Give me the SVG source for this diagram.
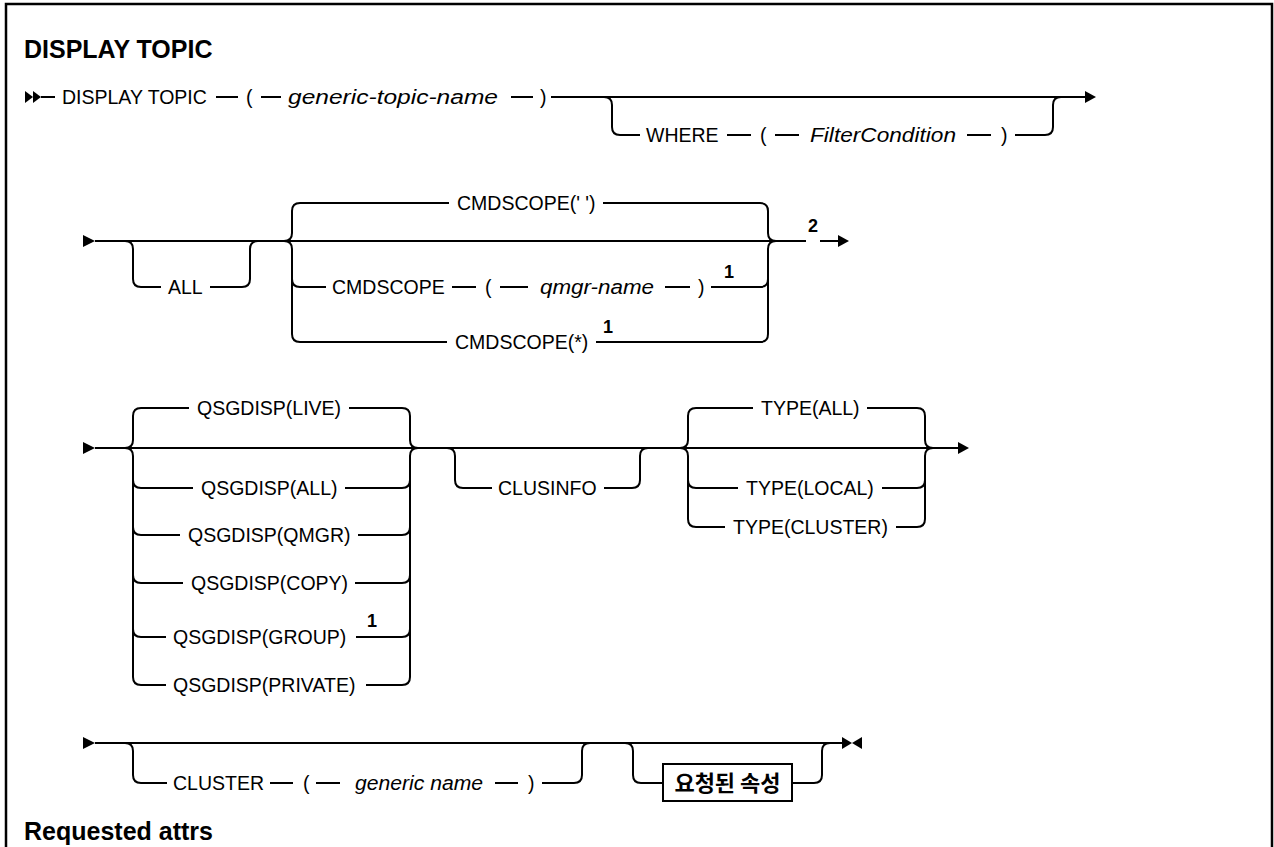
<svg xmlns="http://www.w3.org/2000/svg" width="1274" height="847" viewBox="0 0 1274 847">
<style>
.l{stroke:#000;stroke-width:2;fill:none}
.f{fill:#000;stroke:none}
.t{font-family:"Liberation Sans",Arial,sans-serif;font-size:19.5px;fill:#000}
.i{font-style:italic;font-size:20px}
.h{font-family:"Liberation Sans",Arial,sans-serif;font-size:25px;font-weight:bold;fill:#000}
.s{font-family:"Liberation Sans",Arial,sans-serif;font-size:18px;font-weight:bold;fill:#000}
.k{font-family:"Noto Sans CJK KR",sans-serif;font-size:22px;font-weight:bold;fill:#000}
</style>
<rect width="1274" height="847" fill="#fff"/>
<path class="l" style="stroke-width:2.5" d="M6,847 V4 H1272 V847"/>
<g id="connectors">
<!-- row 1 -->
<polygon class="f" points="25,91 33,97 25,103"/>
<polygon class="f" points="33,91 41,97 33,103"/>
<path class="l" d="M41,97 H55 M216,97 H238 M261,97 H281 M511,97 H533 M551,97 H1085"/>
<polygon class="f" points="1085,91 1096,97 1085,103"/>
<path class="l" d="M604,97 q8,0 8,8 V127 q0,8 8,8 H640 M727,135 H751 M775,135 H799 M967,135 H991 M1015,135 H1045 q8,0 8,-8 V105 q0,-8 8,-8"/>
<!-- row 2 -->
<polygon class="f" points="83,235 95,241 83,247"/>
<path class="l" d="M95,241 H806 M820,241 H838"/>
<polygon class="f" points="838,235 849,241 838,247"/>
<path class="l" d="M125,241 q8,0 8,8 V279 q0,8 8,8 H161 M210,287 H242 q8,0 8,-8 V249 q0,-8 8,-8"/>
<path class="l" d="M300,203 q-8,0 -8,8 V233 q0,8 -8,8 M284,241 q8,0 8,8 V334 q0,8 8,8 M292,279 q0,8 8,8"/>
<path class="l" d="M760,203 q8,0 8,8 V233 q0,8 8,8 M776,241 q-8,0 -8,8 V334 q0,8 -8,8 M768,279 q0,8 -8,8"/>
<path class="l" d="M300,203 H449 M603,203 H760 M300,287 H326 M452,287 H476 M500,287 H528 M665,287 H690 M711,287 H760 M300,342 H447 M596,342 H760"/>
<!-- row 3 -->
<polygon class="f" points="83,442 95,448 83,454"/>
<path class="l" d="M95,448 H958"/>
<polygon class="f" points="958,442 969,448 958,454"/>
<path class="l" d="M141,408 q-8,0 -8,8 V440 q0,8 -8,8 M125,448 q8,0 8,8 V677 q0,8 8,8 M133,480 q0,8 8,8 M133,527 q0,8 8,8 M133,575 q0,8 8,8 M133,629 q0,8 8,8"/>
<path class="l" d="M402,408 q8,0 8,8 V440 q0,8 8,8 M418,448 q-8,0 -8,8 V677 q0,8 -8,8 M410,480 q0,8 -8,8 M410,527 q0,8 -8,8 M410,575 q0,8 -8,8 M410,629 q0,8 -8,8"/>
<path class="l" d="M141,408 H189 M349,408 H402 M141,488 H193 M345,488 H402 M141,535 H180 M358,535 H402 M141,583 H183 M355,583 H402 M141,637 H166 M356,637 H402 M141,685 H166 M366,685 H402"/>
<path class="l" d="M447,448 q8,0 8,8 V480 q0,8 8,8 H492 M604,488 H632 q8,0 8,-8 V456 q0,-8 8,-8"/>
<path class="l" d="M696,408 q-8,0 -8,8 V440 q0,8 -8,8 M680,448 q8,0 8,8 V519 q0,8 8,8 M688,480 q0,8 8,8"/>
<path class="l" d="M917,408 q8,0 8,8 V440 q0,8 8,8 M933,448 q-8,0 -8,8 V519 q0,8 -8,8 M925,480 q0,8 -8,8"/>
<path class="l" d="M696,408 H753 M867,408 H917 M696,488 H738 M882,488 H917 M696,527 H725 M896,527 H917"/>
<!-- row 4 -->
<polygon class="f" points="83,737 95,743 83,749"/>
<path class="l" d="M95,743 H842"/>
<polygon class="f" points="842,737 852,743 842,749"/>
<polygon class="f" points="862,737 852,743 862,749"/>
<path class="l" d="M125,743 q8,0 8,8 V775 q0,8 8,8 H167 M270,783 H293 M316,783 H340 M495,783 H518 M542,783 H574 q8,0 8,-8 V751 q0,-8 8,-8"/>
<path class="l" d="M625,743 q8,0 8,8 V775 q0,8 8,8 H663 M792,783 H814 q8,0 8,-8 V751 q0,-8 8,-8"/>
</g>
<g id="title"><text class="h" x="24" y="58">DISPLAY TOPIC</text></g>
<g id="n-display"><text class="t" x="62" y="104">DISPLAY TOPIC</text></g>
<g id="n-lp1"><text class="t" x="246" y="104">(</text></g>
<g id="n-gtn"><text class="t i" x="288" y="104" textLength="210" lengthAdjust="spacingAndGlyphs">generic-topic-name</text></g>
<g id="n-rp1"><text class="t" x="540" y="104">)</text></g>
<g id="n-where"><text class="t" x="646" y="142">WHERE</text></g>
<g id="n-lp2"><text class="t" x="760" y="142">(</text></g>
<g id="n-filter"><text class="t i" x="810" y="142" textLength="146" lengthAdjust="spacingAndGlyphs">FilterCondition</text></g>
<g id="n-rp2"><text class="t" x="1001" y="142">)</text></g>
<g id="n-all"><text class="t" x="168" y="294">ALL</text></g>
<g id="n-cmd-blank"><text class="t" x="457" y="210">CMDSCOPE(' ')</text></g>
<g id="n-cmd"><text class="t" x="332" y="294">CMDSCOPE</text></g>
<g id="n-lp3"><text class="t" x="485" y="294">(</text></g>
<g id="n-qmgr"><text class="t i" x="540" y="294" textLength="114" lengthAdjust="spacingAndGlyphs">qmgr-name</text></g>
<g id="n-rp3"><text class="t" x="698" y="294">)</text><text class="s" x="724" y="278">1</text></g>
<g id="n-cmd-star"><text class="t" x="455" y="349">CMDSCOPE(*)</text><text class="s" x="603" y="333">1</text></g>
<g id="n-note2"><text class="s" x="808" y="232">2</text></g>
<g id="n-live"><text class="t" x="197" y="415">QSGDISP(LIVE)</text></g>
<g id="n-qall"><text class="t" x="201" y="495">QSGDISP(ALL)</text></g>
<g id="n-qmgrd"><text class="t" x="188" y="542">QSGDISP(QMGR)</text></g>
<g id="n-copy"><text class="t" x="191" y="590">QSGDISP(COPY)</text></g>
<g id="n-group"><text class="t" x="173" y="644">QSGDISP(GROUP)</text><text class="s" x="367" y="627">1</text></g>
<g id="n-private"><text class="t" x="173" y="692">QSGDISP(PRIVATE)</text></g>
<g id="n-clusinfo"><text class="t" x="498" y="495">CLUSINFO</text></g>
<g id="n-tall"><text class="t" x="761" y="415">TYPE(ALL)</text></g>
<g id="n-tlocal"><text class="t" x="746" y="495">TYPE(LOCAL)</text></g>
<g id="n-tcluster"><text class="t" x="733" y="534">TYPE(CLUSTER)</text></g>
<g id="n-cluster"><text class="t" x="173" y="790">CLUSTER</text></g>
<g id="n-lp4"><text class="t" x="303" y="790">(</text></g>
<g id="n-gname"><text class="t i" x="355" y="790" textLength="128" lengthAdjust="spacingAndGlyphs">generic name</text></g>
<g id="n-rp4"><text class="t" x="528" y="790">)</text></g>
<g id="n-attrs"><rect class="l" x="663" y="764" width="129" height="37"/><text class="k" x="727.5" y="791" text-anchor="middle">요청된 속성</text></g>
<g id="title2"><text class="h" x="24" y="840">Requested attrs</text></g>
</svg>
